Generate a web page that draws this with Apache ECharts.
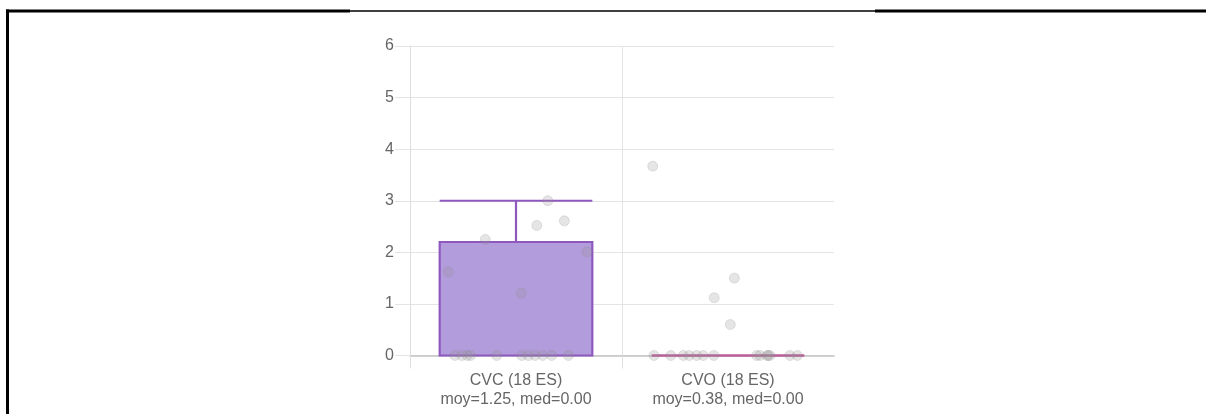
<!DOCTYPE html>
<html>
<head>
<meta charset="utf-8">
<script src="https://cdn.jsdelivr.net/npm/echarts@6/dist/echarts.min.js"></script>
<style>
html,body{margin:0;padding:0;background:#fff;}
#chart{width:1206px;height:414px;}
</style>
</head>
<body>
<div id="chart"></div>
<script>
// ---- data ----
const categories = ['CVC (18 ES)', 'CVO (18 ES)'];
const subLabels = ['moy=1.25, med=0.00', 'moy=0.38, med=0.00'];
// [min, Q1, median, Q3, max]
const boxStats = [[0, 0, 0, 2.2, 3], [0, 0, 0, 0, 0]];
const yTicks = [0, 1, 2, 3, 4, 5, 6];

const cvcValues = [1.62, 2.25, 1.21, 2.52, 3.0, 2.61, 2.01, 0, 0, 0, 0, 0, 0, 0, 0, 0, 0, 0];
const cvcJitter = [-0.319, -0.145, 0.025, 0.098, 0.150, 0.228, 0.335, -0.288, -0.256, -0.230, -0.214, -0.091, 0.027, 0.058, 0.090, 0.126, 0.168, 0.247];
const cvoValues = [3.67, 1.50, 1.12, 0.60, 0, 0, 0, 0, 0, 0, 0, 0, 0, 0, 0, 0, 0, 0];
const cvoJitter = [-0.355, 0.030, -0.065, 0.011, -0.349, -0.270, -0.211, -0.183, -0.148, -0.117, -0.067, 0.135, 0.151, 0.184, 0.190, 0.198, 0.292, 0.327];

const pointSets = [[cvcValues, cvcJitter], [cvoValues, cvoJitter]];
const scatterData = [];
pointSets.forEach(function (set, ci) {
  set[0].forEach(function (v, i) { scatterData.push([ci + 0.5 + set[1][i], v]); });
});

const boxColor = '#8e58bf';
const boxFill = '#b39cdb';
const medianColor = '#bb5f9a';
const textColor = '#666666';
const font = 'Liberation Sans, Arial, Helvetica, sans-serif';

const chart = echarts.init(document.getElementById('chart'), null, {renderer: 'canvas'});
chart.setOption({
  animation: false,
  backgroundColor: '#ffffff',
  grid: {left: 410, right: 372, top: 46, bottom: 58.5, containLabel: false},
  xAxis: [{
    type: 'category',
    data: categories,
    boundaryGap: true,
    axisLine: {show: true, lineStyle: {color: '#c4c4c4', width: 1.5}},
    axisTick: {show: false},
    splitLine: {show: true, showMinLine: false, showMaxLine: false, lineStyle: {color: '#e4e4e4', width: 1}},
    axisLabel: {
      color: textColor, fontSize: 16, fontFamily: font, margin: 16, lineHeight: 19,
      formatter: function (v, i) { return v + '\n' + subLabels[i]; }
    }
  }, {
    type: 'value',
    min: 0, max: 2,
    position: 'bottom',
    axisLine: {show: false},
    axisLabel: {show: false},
    splitLine: {show: false},
    axisTick: {show: true, customValues: [0, 1], length: 13, lineStyle: {color: '#e0e0e0', width: 1}}
  }],
  yAxis: {
    type: 'value',
    min: 0, max: 6, interval: 1,
    axisLine: {show: true, lineStyle: {color: '#dedede', width: 1}},
    axisTick: {show: true, length: 15, lineStyle: {color: '#e4e4e4'}},
    splitLine: {show: true, lineStyle: {color: '#e4e4e4', width: 1}},
    axisLabel: {
      color: textColor, fontSize: 16, fontFamily: font, margin: 16,
      customValues: yTicks
    }
  },
  series: [{
    type: 'boxplot',
    xAxisIndex: 0,
    boxWidth: ['72%', '72%'],
    itemStyle: {color: boxFill, borderColor: boxColor, borderWidth: 2.2},
    data: [
      {value: boxStats[0]},
      {value: boxStats[1], itemStyle: {borderColor: medianColor, borderWidth: 2.5}}
    ],
    z: 2
  }, {
    type: 'scatter',
    xAxisIndex: 1,
    symbol: 'circle',
    symbolSize: 10,
    itemStyle: {color: 'rgba(150,150,150,0.3)', borderColor: 'rgba(130,130,130,0.25)', borderWidth: 1},
    data: scatterData,
    z: 5
  }],
  graphic: [
    {type: 'line', shape: {x1: 7.5, y1: 9.5, x2: 7.5, y2: 414}, style: {stroke: '#000', lineWidth: 3}, silent: true},
    {type: 'line', shape: {x1: 6, y1: 11, x2: 350, y2: 11}, style: {stroke: '#000', lineWidth: 3}, silent: true},
    {type: 'line', shape: {x1: 350, y1: 11, x2: 875, y2: 11}, style: {stroke: '#000', lineWidth: 1.5}, silent: true},
    {type: 'line', shape: {x1: 875, y1: 11, x2: 1206, y2: 11}, style: {stroke: '#000', lineWidth: 3}, silent: true}
  ]
});
</script>
</body>
</html>
